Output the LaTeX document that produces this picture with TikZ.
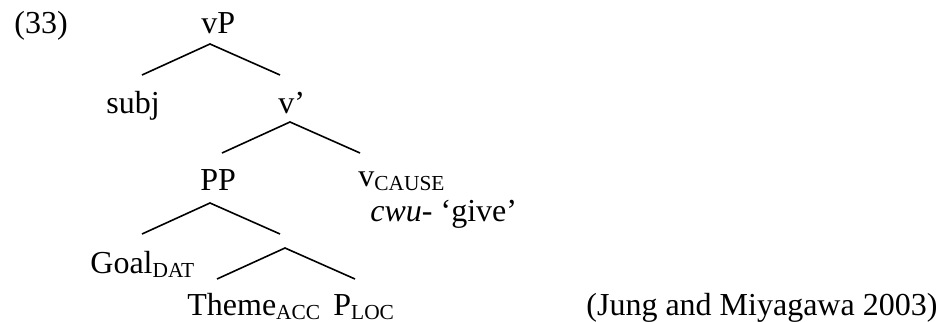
\documentclass[tikz,border=0pt]{standalone}
\usepackage{fontspec}
\setmainfont{Liberation Serif}

\tikzset{
  lbl/.style={inner sep=0pt, anchor=base west, font=\fontsize{16}{19}\selectfont},
  branch/.style={line width=0.8pt}
}
% word-processor style subscript: smaller, dropped a little
\newcommand{\lsub}[1]{\raisebox{-2.2pt}{\fontsize{10.7}{12}\selectfont #1}}

\begin{document}
\begin{tikzpicture}[x=0.5pt,y=-0.5pt]
        \useasboundingbox (0,0) rectangle (940,321);
        % labels, placed by left edge and baseline
        \node[lbl] (ex) at (14,33) {(33)};
        \node[lbl] (vP) at (201,33) {vP};
        \node[lbl] (subj) at (106,113) {subj};
        \node[lbl] (vbar) at (278,113) {v’};
        \node[lbl] (PP) at (200,190) {PP};
        \node[lbl] (vcause) at (358,186) {v\lsub{CAUSE}};
        \node[lbl] (cwu) at (370,221) {\emph{cwu}- ‘give’};
        \node[lbl] (goal) at (90,273) {Goal\lsub{DAT}};
        \node[lbl] (theme) at (187,315) {Theme\lsub{ACC}};
        \node[lbl] (ploc) at (333,315) {P\lsub{LOC}};
        \node[lbl] (cite) at (586,315) {(Jung and Miyagawa 2003)};
        % branches
        \coordinate (A) at (210,44);
        \coordinate (B) at (142,75);
        \coordinate (C) at (280,75);
        \draw[branch] (B)--(A)--(C);
        \begin{scope}[xshift=40pt,yshift=-39pt]
        \coordinate (A) at (210,44);
        \coordinate (B) at (142,75);
        \coordinate (C) at (280,75);
        \draw[branch] (B)--(A)--(C);
        \end{scope}
        \begin{scope}[yshift=-79.5pt]
        \coordinate (A) at (210,44);
        \coordinate (B) at (142,75);
        \coordinate (C) at (280,75);
        \draw[branch] (B)--(A)--(C);
        \end{scope}
        \begin{scope}[xshift=37.5pt,yshift=-102pt]
        \coordinate (A) at (210,44);
        \coordinate (B) at (142,75);
        \coordinate (C) at (280,75);
        \draw[branch] (B)--(A)--(C);
        \end{scope}
\end{tikzpicture}
\end{document}
